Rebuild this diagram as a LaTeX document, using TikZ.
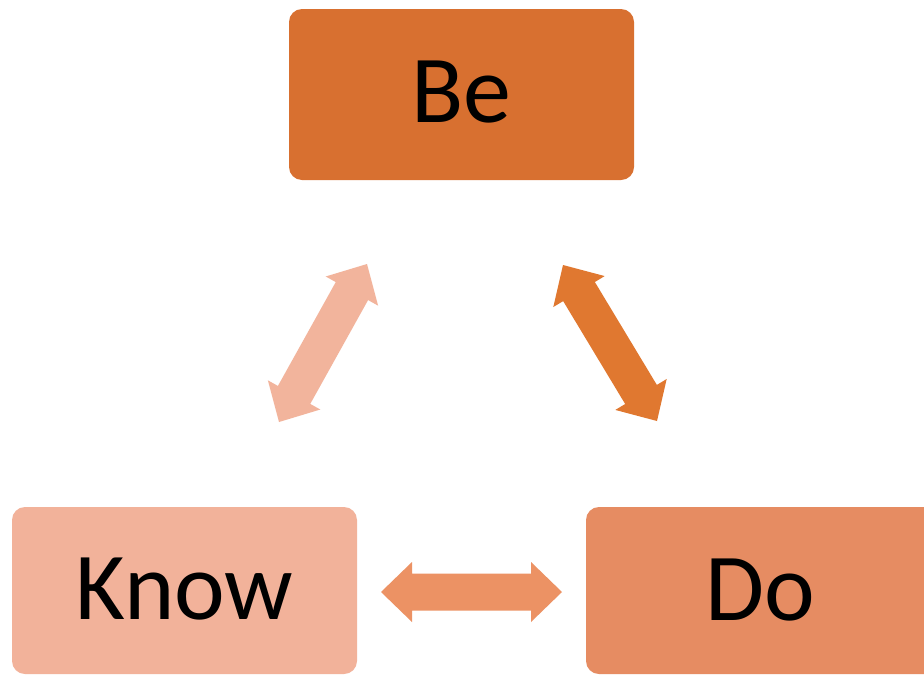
\documentclass[tikz,border=0pt]{standalone}
\usepackage{fontspec}
\setmainfont{Carlito}
\usetikzlibrary{calc}
\definecolor{beC}{HTML}{D87030}
\definecolor{knowC}{HTML}{F2B29A}
\definecolor{doC}{HTML}{E68C62}
\definecolor{arrL}{HTML}{F2B49C}
\definecolor{arrR}{HTML}{E07830}
\definecolor{arrB}{HTML}{EC9264}
\newcommand\dblarr[3]{%
\fill[#3] (#1) -- ($(#1)!31pt!(#2)!30pt!90:(#2)$) -- ($(#1)!31pt!(#2)!18.5pt!90:(#2)$)
 -- ($(#2)!31pt!(#1)!-18.5pt!90:(#1)$) -- ($(#2)!31pt!(#1)!-30pt!90:(#1)$) -- (#2)
 -- ($(#2)!31pt!(#1)!30pt!90:(#1)$) -- ($(#2)!31pt!(#1)!18.5pt!90:(#1)$)
 -- ($(#1)!31pt!(#2)!-18.5pt!90:(#2)$) -- ($(#1)!31pt!(#2)!-30pt!90:(#2)$) -- cycle;}
\begin{document}
\begin{tikzpicture}[x=1pt,y=-1pt,
  box/.style={rounded corners=13pt,inner sep=0pt,font=\fontsize{96}{100}\selectfont}]
\clip (0,0) rectangle (924,675);
\fill[white] (0,0) rectangle (924,675);
\fill[beC,rounded corners=13pt] (289,9) rectangle (634,180);
\fill[knowC,rounded corners=13pt] (12,507) rectangle (357,674);
\fill[doC,rounded corners=13pt] (586,507) rectangle (950,674);
\node[box] (be) at (461.5,92) {Be};
\node[box] (know) at (184.5,589) {Know};
\node[box] (do) at (760,590) {Do};
\coordinate (l1) at (279,422); \coordinate (l2) at (367,264);
\coordinate (r1) at (563,265); \coordinate (r2) at (657,421);
\coordinate (b1) at (381,592); \coordinate (b2) at (562,592);
\dblarr{l1}{l2}{arrL}
\dblarr{r1}{r2}{arrR}
\dblarr{b1}{b2}{arrB}
\end{tikzpicture}
\end{document}
